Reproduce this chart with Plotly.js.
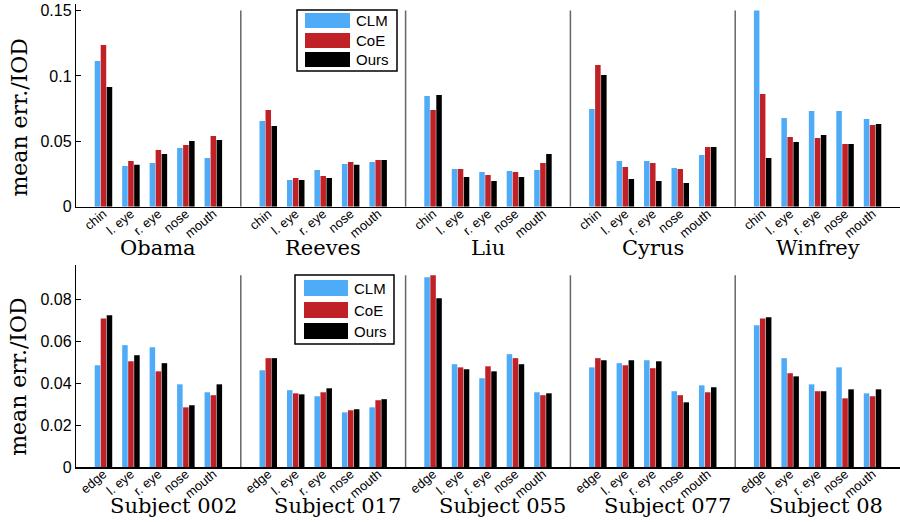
<!DOCTYPE html>
<html>
<head>
<meta charset="utf-8">
<script src="https://cdn.plot.ly/plotly-3.0.1.min.js"></script>
<style>html,body{margin:0;padding:0;background:#fff;}#chart{width:900px;height:522px;}</style>
</head>
<body>
<div id="chart"></div>
<script>
// ---- data ----
const seriesNames = ['CLM', 'CoE', 'Ours'];
const groupsTop = ['Obama', 'Reeves', 'Liu', 'Cyrus', 'Winfrey'];
const partsTop = ['chin', 'l. eye', 'r. eye', 'nose', 'mouth'];
const groupsBottom = ['Subject 002', 'Subject 017', 'Subject 055', 'Subject 077', 'Subject 08'];
const partsBottom = ['edge', 'l. eye', 'r. eye', 'nose', 'mouth'];

const clmTop  = [0.1115,0.0311,0.0334,0.0449,0.0373, 0.0656,0.0204,0.0281,0.0327,0.0342, 0.0847,0.0288,0.0265,0.0273,0.0281, 0.0748,0.0350,0.0350,0.0296,0.0396, 0.1500,0.0679,0.0732,0.0732,0.0671];
const coeTop  = [0.1237,0.0350,0.0434,0.0472,0.0540, 0.0740,0.0220,0.0235,0.0342,0.0357, 0.0740,0.0288,0.0242,0.0265,0.0334, 0.1084,0.0304,0.0334,0.0288,0.0457, 0.0862,0.0533,0.0526,0.0480,0.0625];
const oursTop = [0.0916,0.0320,0.0403,0.0503,0.0510, 0.0618,0.0204,0.0220,0.0320,0.0357, 0.0855,0.0227,0.0197,0.0227,0.0403, 0.1007,0.0212,0.0197,0.0181,0.0457, 0.0373,0.0495,0.0549,0.0480,0.0633];

const clmBottom  = [0.0486,0.0582,0.0572,0.0395,0.0357, 0.0462,0.0367,0.0338,0.0261,0.0285, 0.0907,0.0491,0.0424,0.0539,0.0357, 0.0476,0.0496,0.0510,0.0362,0.0390, 0.0677,0.0520,0.0395,0.0476,0.0352];
const coeBottom  = [0.0710,0.0505,0.0457,0.0285,0.0343, 0.0520,0.0352,0.0357,0.0271,0.0319, 0.0916,0.0476,0.0481,0.0520,0.0343, 0.0520,0.0486,0.0472,0.0343,0.0357, 0.0710,0.0448,0.0362,0.0328,0.0338];
const oursBottom = [0.0725,0.0534,0.0496,0.0295,0.0395, 0.0520,0.0347,0.0376,0.0276,0.0324, 0.0806,0.0467,0.0457,0.0491,0.0352, 0.0510,0.0510,0.0505,0.0309,0.0381, 0.0715,0.0433,0.0362,0.0371,0.0371];

// ---- styles ----
const colors = ['#4dabf7', '#c02126', '#000000'];
const serif = 'DejaVu Serif, serif';
const sans = 'Liberation Sans, Arial, sans-serif';

// plot-area geometry (pixels) used to place the hand-built legends
const M = {l: 76, r: 0, t: 4, b: 55};
const plotW = 900 - M.l - M.r, plotH = 522 - M.t - M.b;
const px2x = p => (p - M.l) / plotW;
const px2y = p => (522 - M.b - p) / plotH;

// positions: each group has 6 slots, categories occupy slots 1..5
function positions(groups, parts) {
  const xs = [], labels = [];
  groups.forEach((g, gi) => parts.forEach((p, pi) => { xs.push(gi * 6 + pi + 1); labels.push(p); }));
  return {xs, labels};
}
const posTop = positions(groupsTop, partsTop);
const posBot = positions(groupsBottom, partsBottom);

const traces = [];
[clmTop, coeTop, oursTop].forEach((vals, i) => traces.push({
  type: 'bar', x: posTop.xs, y: vals, name: seriesNames[i], xaxis: 'x', yaxis: 'y',
  marker: {color: colors[i], line: {width: 0}}, showlegend: false, hoverinfo: 'y'
}));
[clmBottom, coeBottom, oursBottom].forEach((vals, i) => traces.push({
  type: 'bar', x: posBot.xs, y: vals, name: seriesNames[i], xaxis: 'x2', yaxis: 'y2',
  marker: {color: colors[i], line: {width: 0}}, showlegend: false, hoverinfo: 'y'
}));

const maxTop = Math.max(...clmTop, ...coeTop, ...oursTop);
const maxBot = Math.max(...clmBottom, ...coeBottom, ...oursBottom);

const shapes = [];
for (let g = 1; g < groupsTop.length; g++) {
  shapes.push({type: 'line', xref: 'x', yref: 'y', x0: g * 6, x1: g * 6, y0: 0, y1: maxTop, line: {color: '#666', width: 1.5}});
}
for (let g = 1; g < groupsBottom.length; g++) {
  shapes.push({type: 'line', xref: 'x2', yref: 'y2', x0: g * 6, x1: g * 6, y0: 0, y1: maxBot, line: {color: '#666', width: 1.5}});
}

const annotations = [];
groupsTop.forEach((g, gi) => annotations.push({
  text: g, xref: 'x', yref: 'paper', x: gi * 6 + 3, y: 0.472, xanchor: 'center', yanchor: 'middle',
  showarrow: false, font: {family: serif, size: 21, color: '#000'}
}));
groupsBottom.forEach((g, gi) => annotations.push({
  text: g, xref: 'x2', yref: 'paper', x: gi * 6 + 1.15, y: -0.085, xanchor: 'left', yanchor: 'middle',
  showarrow: false, font: {family: serif, size: 21, color: '#000'}
}));
[0.755, 0.195].forEach(yy => annotations.push({
  text: 'mean err./IOD', xref: 'paper', yref: 'paper', x: -0.069, y: yy, xanchor: 'center', yanchor: 'middle',
  textangle: -90, showarrow: false, font: {family: serif, size: 22, color: '#000'}
}));

// legends (box, swatches, labels) drawn as layout shapes/annotations
function addLegend(box, rows, swX0, swX1, swH, textX) {
  shapes.push({type: 'rect', xref: 'paper', yref: 'paper',
    x0: px2x(box[0]), x1: px2x(box[1]), y0: px2y(box[3]), y1: px2y(box[2]),
    fillcolor: '#fff', line: {color: '#000', width: 1.5}, layer: 'above'});
  seriesNames.forEach((nm, i) => {
    shapes.push({type: 'rect', xref: 'paper', yref: 'paper',
      x0: px2x(swX0), x1: px2x(swX1), y0: px2y(rows[i] + swH / 2), y1: px2y(rows[i] - swH / 2),
      fillcolor: colors[i], line: {width: 0}, layer: 'above'});
    annotations.push({text: nm, xref: 'paper', yref: 'paper', x: px2x(textX), y: px2y(rows[i]),
      xanchor: 'left', yanchor: 'middle', showarrow: false,
      font: {family: sans, size: 15, color: '#000'}});
  });
}
addLegend([297, 397, 10, 71], [20.5, 40.5, 59.5], 305, 350, 15, 354);
addLegend([295, 394, 275, 344], [288, 310, 331], 304, 348, 16, 352);

function xaxisDef(pos, anchor) {
  return {
    anchor: anchor, domain: [0, 1], range: [0, 30], showgrid: false, zeroline: false,
    showline: true, linecolor: '#000', linewidth: 1.5, ticks: '',
    tickmode: 'array', tickvals: pos.xs, ticktext: pos.labels, tickangle: -40,
    ticklabelstandoff: -7,
    tickfont: {family: sans, size: 13, color: '#000'}
  };
}
function yaxisDef(domain, range, dtick) {
  return {
    domain: domain, range: range, dtick: dtick, tick0: 0, showgrid: false, zeroline: false,
    showline: true, linecolor: '#000', linewidth: 1.2, ticks: 'inside', ticklen: 5, tickcolor: '#000',
    tickfont: {family: sans, size: 16, color: '#000'}
  };
}

const layout = {
  width: 900, height: 522,
  margin: M,
  paper_bgcolor: '#fff', plot_bgcolor: '#fff',
  barmode: 'group', bargap: 0.345, bargroupgap: 0.08,
  showlegend: false,
  xaxis: xaxisDef(posTop, 'y'),
  yaxis: yaxisDef([1 - (206.7 - M.t) / plotH, 1], [0, 0.155], 0.05),
  xaxis2: xaxisDef(posBot, 'y2'),
  yaxis2: yaxisDef([0, (466.7 - 264.7) / plotH], [0, 0.0965], 0.02),
  shapes: shapes,
  annotations: annotations
};

Plotly.newPlot('chart', traces, layout, {displayModeBar: false, staticPlot: true});
</script>
</body>
</html>
